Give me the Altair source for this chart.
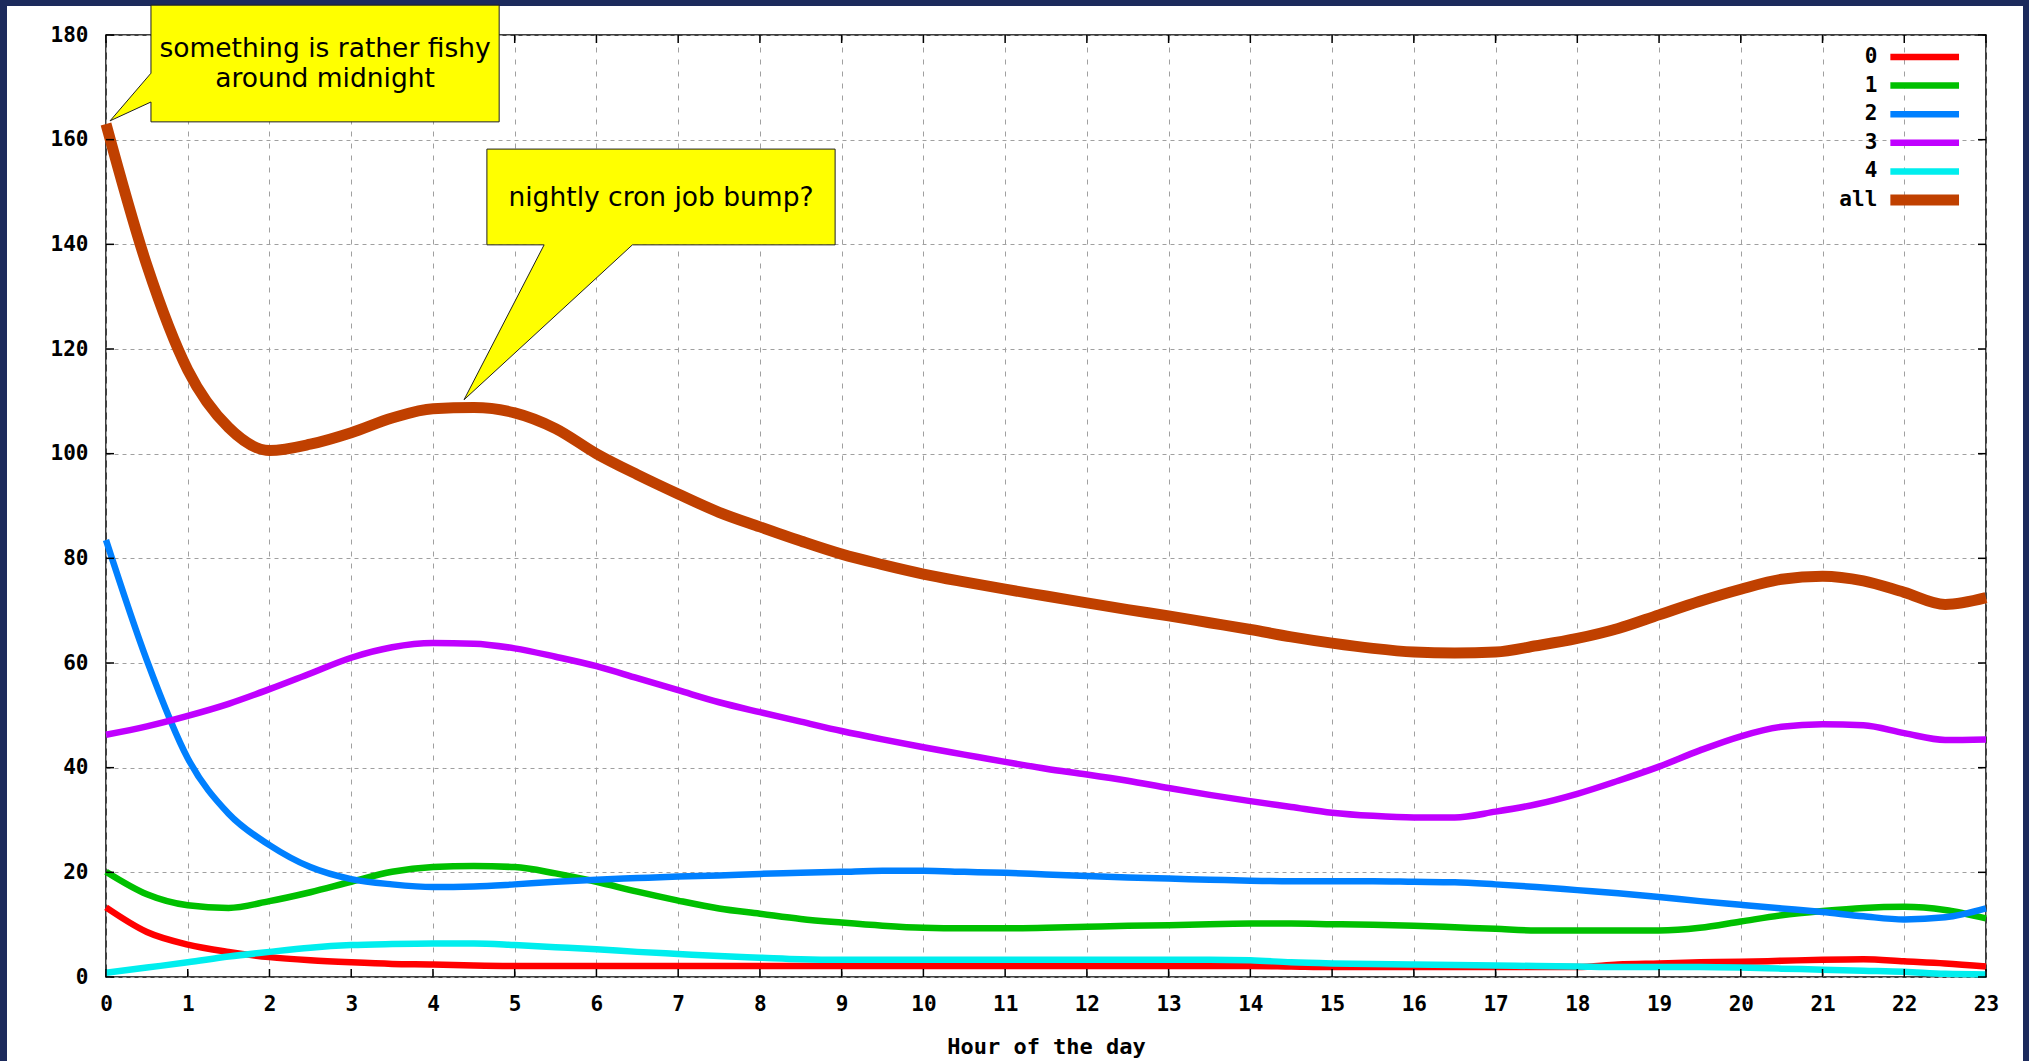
import altair as alt
import pandas as pd

# ---------------- data ----------------
HOURS = [0, 0.5, 1, 1.5, 2, 2.5, 3, 3.5, 4, 4.5, 5, 5.5, 6, 6.5, 7, 7.5, 8, 8.5,
         9, 9.5, 10, 10.5, 11, 11.5, 12, 12.5, 13, 13.5, 14, 14.5, 15, 15.5,
         16, 16.5, 17, 17.5, 18, 18.5, 19, 19.5, 20, 20.5, 21, 21.5, 22, 22.5, 23]

S0 = [13.3, 8.6, 6.2, 4.8, 3.8, 3.2, 2.8, 2.5, 2.4, 2.2, 2.1, 2.1, 2.1, 2.1, 2.1, 2.1,
      2.1, 2.1, 2.1, 2.1, 2.1, 2.1, 2.1, 2.1, 2.1, 2.1, 2.1, 2.1, 2.1, 2.0, 1.9, 1.9,
      1.9, 1.9, 1.9, 1.9, 1.9, 2.4, 2.6, 2.8, 2.9, 3.1, 3.3, 3.4, 3.0, 2.6, 2.0]
S1 = [20.1, 15.8, 13.7, 13.2, 14.5, 16.2, 18.2, 20.1, 21.0, 21.2, 21.0, 19.8, 18.2,
      16.3, 14.6, 13.1, 12.1, 11.1, 10.4, 9.8, 9.4, 9.3, 9.3, 9.4, 9.6, 9.8, 9.9,
      10.1, 10.2, 10.2, 10.1, 10.0, 9.8, 9.5, 9.2, 8.9, 8.9, 8.9, 8.9, 9.4, 10.6,
      11.8, 12.6, 13.2, 13.4, 12.8, 11.2]
S2 = [83.5, 60.5, 41.8, 31.2, 25.2, 21.0, 18.7, 17.7, 17.2, 17.3, 17.7, 18.2, 18.6,
      18.9, 19.2, 19.4, 19.7, 19.9, 20.1, 20.3, 20.3, 20.1, 19.9, 19.6, 19.3, 19.0,
      18.8, 18.6, 18.4, 18.3, 18.3, 18.3, 18.2, 18.1, 17.7, 17.2, 16.6, 16.0, 15.3,
      14.5, 13.8, 13.1, 12.4, 11.6, 11.0, 11.4, 13.1]
S3 = [46.3, 47.9, 49.9, 52.2, 55.0, 58.0, 61.0, 63.0, 63.8, 63.7, 62.8, 61.2, 59.4,
      57.1, 54.8, 52.5, 50.6, 48.8, 47.0, 45.4, 43.9, 42.5, 41.1, 39.8, 38.7, 37.5,
      36.1, 34.8, 33.6, 32.5, 31.4, 30.8, 30.5, 30.5, 31.6, 33.0, 35.0, 37.5, 40.2,
      43.3, 46.0, 47.8, 48.3, 48.1, 46.6, 45.3, 45.4]
S4 = [0.8, 1.8, 2.8, 3.9, 4.8, 5.6, 6.1, 6.3, 6.4, 6.4, 6.1, 5.7, 5.3, 4.8, 4.4, 4.0,
      3.7, 3.4, 3.3, 3.3, 3.3, 3.3, 3.3, 3.3, 3.3, 3.3, 3.3, 3.3, 3.2, 2.8, 2.6, 2.5,
      2.4, 2.3, 2.2, 2.1, 2.0, 1.9, 1.9, 1.9, 1.8, 1.6, 1.4, 1.2, 1.0, 0.6, 0.5]
SALL = [163.0, 136.0, 116.0, 105.0, 100.6, 101.8, 104.0, 106.8, 108.6, 108.8, 107.8,
        104.8, 100.0, 96.0, 92.3, 88.8, 86.0, 83.3, 80.8, 78.8, 77.0, 75.5, 74.1,
        72.8, 71.5, 70.2, 69.0, 67.7, 66.4, 65.0, 63.8, 62.8, 62.1, 61.9, 62.1, 63.3,
        64.7, 66.6, 69.2, 71.8, 74.1, 76.0, 76.6, 75.7, 73.5, 71.2, 72.5]

SERIES = ["0", "1", "2", "3", "4", "all"]
COLORS = ["#ff0000", "#00c000", "#0080ff", "#c000ff", "#00eeee", "#c04000"]
THIN, THICK = 6.5, 11

XTICKS = list(range(0, 24))
YTICKS = [0, 20, 40, 60, 80, 100, 120, 140, 160, 180]

NOTE1 = ["something is rather fishy", "around midnight"]
NOTE2 = ["nightly cron job bump?"]

# callout outlines (hour, value), drawn in order
CALLOUT1_X = [0.55, 4.81, 4.81, 0.55, 0.55, 0.05, 0.55, 0.55]
CALLOUT1_Y = [185.7, 185.7, 163.4, 163.4, 167.2, 163.6, 172.7, 185.7]
CALLOUT2_X = [4.66, 8.92, 8.92, 6.44, 4.38, 5.36, 4.66, 4.66]
CALLOUT2_Y = [158.2, 158.2, 139.9, 139.9, 110.3, 139.9, 139.9, 158.2]

# ---------------- tables ----------------
rows = []
for name, vals in zip(SERIES, [S0, S1, S2, S3, S4, SALL]):
    for h, v in zip(HOURS, vals):
        rows.append({"series": name, "hour": h, "value": v})
df = pd.DataFrame(rows)
df_thin = df[df["series"] != "all"]
df_all = df[df["series"] == "all"]

poly_rows = []
for cid, (xs_, ys_) in enumerate([(CALLOUT1_X, CALLOUT1_Y), (CALLOUT2_X, CALLOUT2_Y)]):
    for k, (xx, yy) in enumerate(zip(xs_, ys_)):
        poly_rows.append({"id": cid, "ord": k, "hour": xx, "value": yy})
poly_df = pd.DataFrame(poly_rows)

note_df = pd.DataFrame([
    {"hour": 2.68, "value": 175.8, "txt": NOTE1[0]},
    {"hour": 2.68, "value": 170.1, "txt": NOTE1[1]},
    {"hour": 6.79, "value": 147.3, "txt": NOTE2[0]},
])

leg_df = pd.DataFrame({
    "series": SERIES,
    "value": [175.8 - i * 5.465 for i in range(len(SERIES))],
    "tx": [21.67] * len(SERIES),
    "hour": [21.83] * len(SERIES),
    "hour2": [22.67] * len(SERIES),
})
leg_thin = leg_df[leg_df["series"] != "all"]
leg_all = leg_df[leg_df["series"] == "all"]

# ---------------- geometry ----------------
TOTAL_W, TOTAL_H = 2029, 1061
LEFT, TOP = 106, 35
W, H = 1880, 942
RIGHT = TOTAL_W - LEFT - W
BOTTOM = TOTAL_H - TOP - H

xs = alt.Scale(domain=[0, 23], nice=False, zero=False)
ys = alt.Scale(domain=[0, 180], nice=False, zero=False)
cscale = alt.Scale(domain=SERIES, range=COLORS)

MONO = "DejaVu Sans Mono"

xaxis = alt.Axis(values=XTICKS, format="d", title="Hour of the day",
                 labelFont=MONO, labelFontWeight="bold", labelFontSize=21,
                 labelColor="#000000", labelPadding=16, labelFlush=False,
                 labelOverlap=False, ticks=False, domain=False, grid=True,
                 gridColor="#a0a0a0", gridDash=[5, 7], gridWidth=1,
                 titleFont=MONO, titleFontWeight="bold", titleFontSize=22,
                 titleColor="#000000", titlePadding=22)
yaxis = alt.Axis(values=YTICKS, format="d", title=None,
                 labelFont=MONO, labelFontWeight="bold", labelFontSize=21,
                 labelColor="#000000", labelPadding=18, labelFlush=False,
                 labelOverlap=False, ticks=False, domain=False, grid=True,
                 gridColor="#a0a0a0", gridDash=[4, 4], gridWidth=1)

lines_thin = alt.Chart(df_thin).mark_line(interpolate="monotone", strokeWidth=THIN).encode(
    x=alt.X("hour:Q", scale=xs, axis=xaxis),
    y=alt.Y("value:Q", scale=ys, axis=yaxis),
    color=alt.Color("series:N", scale=cscale, legend=None),
    order=alt.Order("hour:Q"),
)
lines_all = alt.Chart(df_all).mark_line(interpolate="monotone", strokeWidth=THICK).encode(
    x=alt.X("hour:Q", scale=xs),
    y=alt.Y("value:Q", scale=ys),
    color=alt.Color("series:N", scale=cscale, legend=None),
    order=alt.Order("hour:Q"),
)

xt = pd.DataFrame({"hour": XTICKS})
yt = pd.DataFrame({"value": YTICKS})
tick_bottom = alt.Chart(xt).mark_rule(color="#000000", strokeWidth=1.5).encode(
    x=alt.X("hour:Q", scale=xs), y=alt.value(H), y2=alt.value(H - 8))
tick_top = alt.Chart(xt).mark_rule(color="#000000", strokeWidth=1.5).encode(
    x=alt.X("hour:Q", scale=xs), y=alt.value(0), y2=alt.value(8))
tick_left = alt.Chart(yt).mark_rule(color="#000000", strokeWidth=1.5).encode(
    y=alt.Y("value:Q", scale=ys), x=alt.value(0), x2=alt.value(8))
tick_right = alt.Chart(yt).mark_rule(color="#000000", strokeWidth=1.5).encode(
    y=alt.Y("value:Q", scale=ys), x=alt.value(W), x2=alt.value(W - 8))

callouts = alt.Chart(poly_df).mark_line(
    fill="#ffff00", stroke="#202020", strokeWidth=1, interpolate="linear",
    strokeJoin="miter").encode(
    x=alt.X("hour:Q", scale=xs),
    y=alt.Y("value:Q", scale=ys),
    order=alt.Order("ord:Q"),
    detail="id:N",
)

notes = alt.Chart(note_df).mark_text(
    font="DejaVu Sans", fontSize=26.5, align="center", baseline="alphabetic",
    color="#000000").encode(
    x=alt.X("hour:Q", scale=xs), y=alt.Y("value:Q", scale=ys), text="txt:N")

leg_text = alt.Chart(leg_df).mark_text(
    font=MONO, fontWeight="bold", fontSize=21, align="right", baseline="middle",
    color="#000000").encode(
    x=alt.X("tx:Q", scale=xs), y=alt.Y("value:Q", scale=ys), text="series:N")
leg_lines_thin = alt.Chart(leg_thin).mark_rule(strokeWidth=THIN).encode(
    x=alt.X("hour:Q", scale=xs), x2="hour2:Q",
    y=alt.Y("value:Q", scale=ys),
    color=alt.Color("series:N", scale=cscale, legend=None),
)
leg_lines_all = alt.Chart(leg_all).mark_rule(strokeWidth=THICK).encode(
    x=alt.X("hour:Q", scale=xs), x2="hour2:Q",
    y=alt.Y("value:Q", scale=ys),
    color=alt.Color("series:N", scale=cscale, legend=None),
)

NAVY = "#1c2a5c"
one = pd.DataFrame({"k": [0]})
strip_left = alt.Chart(one).mark_rect(color=NAVY).encode(
    x=alt.value(-LEFT), x2=alt.value(-LEFT + 7), y=alt.value(-TOP), y2=alt.value(H + BOTTOM))
strip_top = alt.Chart(one).mark_rect(color=NAVY).encode(
    x=alt.value(-LEFT), x2=alt.value(W + RIGHT), y=alt.value(-TOP), y2=alt.value(-TOP + 6))
strip_right = alt.Chart(one).mark_rect(color=NAVY).encode(
    x=alt.value(2023 - LEFT), x2=alt.value(W + RIGHT), y=alt.value(-TOP), y2=alt.value(H + BOTTOM))

chart = alt.layer(
    strip_left, strip_top, strip_right,
    lines_thin, lines_all, tick_bottom, tick_top, tick_left, tick_right,
    callouts, notes, leg_lines_thin, leg_lines_all, leg_text,
).properties(
    width=W, height=H,
    autosize=alt.AutoSizeParams(type="none"),
    padding={"left": LEFT, "top": TOP, "right": RIGHT, "bottom": BOTTOM},
    background="#ffffff",
).configure_view(
    stroke="#000000", strokeWidth=1.5, fill="#ffffff"
)

chart.save("out.html", embed_options={"renderer": "svg", "actions": False})
